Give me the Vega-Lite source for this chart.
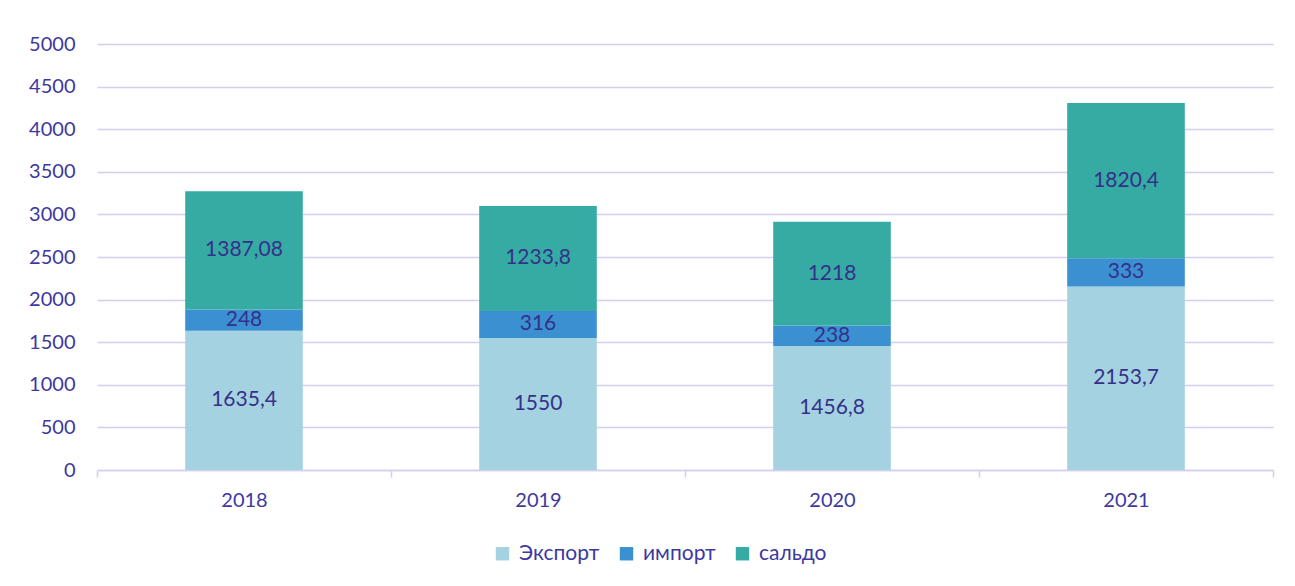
{
  "$schema": "https://vega.github.io/schema/vega-lite/v6.json",
  "width": 1176,
  "height": 426,
  "autosize": {"type": "none"},
  "padding": {"left": 97, "top": 44, "right": 22, "bottom": 116},
  "background": "white",
  "config": {
    "view": {"stroke": null},
    "font": "Lato",
    "locale": {"number": {"decimal": ",", "thousands": "", "grouping": [3], "currency": ["", ""]}}
  },
  "data": {
    "values": [
      {"year": "2018", "series": "Экспорт", "order": 1, "value": 1635.4},
      {"year": "2018", "series": "импорт", "order": 2, "value": 248},
      {"year": "2018", "series": "сальдо", "order": 3, "value": 1387.08},
      {"year": "2019", "series": "Экспорт", "order": 1, "value": 1550},
      {"year": "2019", "series": "импорт", "order": 2, "value": 316},
      {"year": "2019", "series": "сальдо", "order": 3, "value": 1233.8},
      {"year": "2020", "series": "Экспорт", "order": 1, "value": 1456.8},
      {"year": "2020", "series": "импорт", "order": 2, "value": 238},
      {"year": "2020", "series": "сальдо", "order": 3, "value": 1218},
      {"year": "2021", "series": "Экспорт", "order": 1, "value": 2153.7},
      {"year": "2021", "series": "импорт", "order": 2, "value": 333},
      {"year": "2021", "series": "сальдо", "order": 3, "value": 1820.4}
    ]
  },
  "transform": [
    {"stack": "value", "groupby": ["year"], "sort": [{"field": "order", "order": "ascending"}], "as": ["v0", "v1"]},
    {"calculate": "(datum.v0 + datum.v1) / 2", "as": "mid"}
  ],
  "encoding": {
    "x": {
      "field": "year", "type": "nominal",
      "scale": {"paddingInner": 0, "paddingOuter": 0},
      "axis": {
        "title": null, "labelAngle": 0, "tickBand": "extent",
        "domainColor": "#D3CFEE", "domainWidth": 1.5,
        "tickColor": "#D3CFEE", "tickSize": 7, "tickWidth": 1.5,
        "labelColor": "#3D38A0", "labelFontSize": 20, "labelPadding": 13,
        "labelFont": "Lato", "grid": false
      }
    }
  },
  "layer": [
    {
      "mark": {"type": "bar", "width": {"band": 0.4}},
      "encoding": {
        "y": {
          "field": "v0", "type": "quantitative",
          "scale": {"domain": [0, 5000]},
          "axis": {
            "title": null, "values": [0, 500, 1000, 1500, 2000, 2500, 3000, 3500, 4000, 4500, 5000],
            "format": "d", "domain": false, "ticks": false,
            "gridColor": "#D3CFEE", "gridWidth": 1.5,
            "labelColor": "#3D38A0", "labelFontSize": 20, "labelPadding": 22, "labelFont": "Lato"
          }
        },
        "y2": {"field": "v1"},
        "color": {
          "field": "series", "type": "nominal",
          "scale": {"domain": ["Экспорт", "импорт", "сальдо"], "range": ["#A5D2E0", "#3A90D0", "#35ABA3"]},
          "legend": {
            "title": null, "orient": "none", "direction": "horizontal",
            "legendX": 395, "legendY": 499,
            "symbolType": "square", "symbolSize": 180, "symbolStrokeWidth": 0,
            "labelColor": "#3D38A0", "labelFontSize": 21, "labelFont": "Lato",
            "columnPadding": 16, "labelOffset": 6
          }
        }
      }
    },
    {
      "mark": {"type": "text", "fontSize": 21, "color": "#35308A", "font": "Lato"},
      "encoding": {
        "y": {"field": "mid", "type": "quantitative"},
        "text": {"field": "value", "type": "quantitative", "format": "~f"}
      }
    }
  ]
}
